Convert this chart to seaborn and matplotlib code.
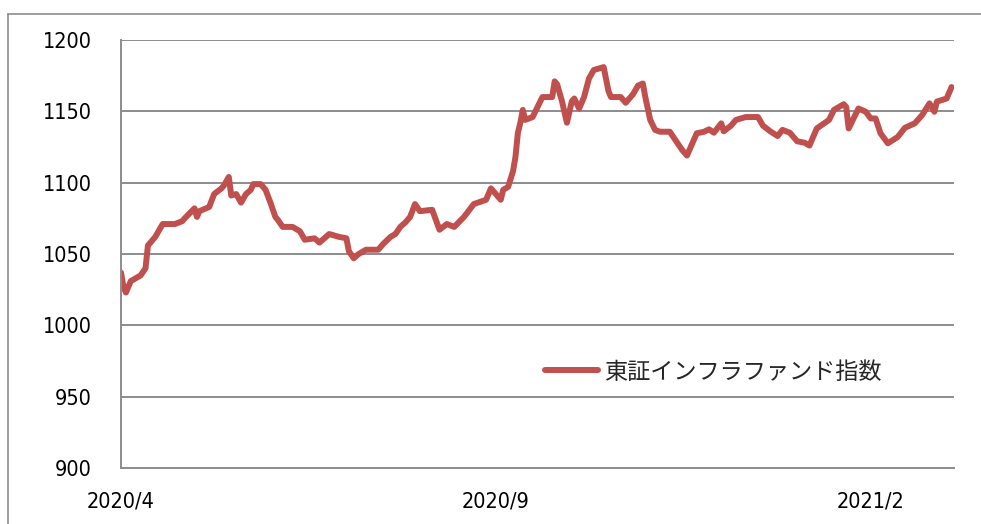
import numpy as np
import pandas as pd
import matplotlib
matplotlib.use("Agg")
import matplotlib.pyplot as plt
from matplotlib.lines import Line2D
from matplotlib import font_manager
import seaborn as sns

# ---------------- data ----------------
start_date = "2020-04-01"
day_offsets = [0, 1, 2, 4, 8, 10, 11, 14, 17, 19, 22, 25, 26, 30, 31, 32, 36, 38, 41, 42,
               44, 45, 47, 49, 51, 53, 54, 57, 59, 61, 63, 64, 66, 70, 73, 75, 79, 81, 85, 89,
               92, 93, 95, 97, 100, 102, 105, 107, 110, 112, 114, 116, 118, 120, 122, 127, 130, 133, 136, 140,
               144, 149, 151, 155, 156, 158, 160, 161, 162, 163, 164, 165, 168, 170, 172, 176, 177, 178, 180, 182,
               184, 185, 187, 189, 191, 193, 197, 199, 200, 204, 206, 209, 211, 213, 214, 215, 216, 218, 220, 224,
               227, 229, 231, 235, 238, 240, 242, 245, 246, 249, 251, 255, 260, 262, 265, 268, 270, 273, 276, 279,
               281, 284, 289, 291, 293, 295, 296, 297, 299, 301, 304, 306, 308, 310, 313, 317, 320, 324, 327, 330,
               332, 333, 337, 339]
index_values = [1037, 1027, 1023, 1031, 1035, 1040, 1056, 1062, 1071, 1071, 1071, 1073, 1075, 1082, 1076, 1080, 1083, 1092, 1096, 1098,
                1104, 1091, 1092, 1086, 1092, 1095, 1099, 1099, 1095, 1086, 1076, 1074, 1069, 1069, 1066, 1060, 1061, 1058, 1064, 1062,
                1061, 1052, 1047, 1050, 1053, 1053, 1053, 1057, 1062, 1064, 1069, 1072, 1076, 1085, 1080, 1081, 1067, 1071, 1069, 1076,
                1085, 1088, 1096, 1088, 1095, 1097, 1108, 1118, 1135, 1142, 1151, 1144, 1146, 1153, 1160, 1160, 1171, 1169, 1157, 1142,
                1157, 1159, 1152, 1160, 1173, 1179, 1181, 1164, 1160, 1160, 1156, 1162, 1168, 1169.5, 1160, 1152, 1144, 1137, 1135.7, 1135.7,
                1128, 1123, 1119, 1134.6, 1135.7, 1137.4, 1135, 1141.6, 1136, 1140, 1144, 1146, 1146, 1140, 1136, 1132.7, 1137, 1135, 1129, 1128,
                1126, 1138, 1144, 1151, 1153, 1155, 1153, 1138, 1145, 1152, 1149.7, 1145, 1145, 1134.6, 1127.6, 1132, 1138.5, 1141.6, 1147.4, 1155.6,
                1149.7, 1156.8, 1159, 1167]
series_name = "東証インフラファンド指数"
x_tick_dates = ["2020-04-01", "2020-09-01", "2021-02-01"]
x_tick_labels = ["2020/4", "2020/9", "2021/2"]
y_ticks = [900, 950, 1000, 1050, 1100, 1150, 1200]

# ---------------- style ----------------
sns.set_style("white")
plt.rcParams['font.family'] = ['DejaVu Sans']
tick_font = font_manager.FontProperties(family="DejaVu Sans", stretch="condensed", size=15.5)

W, H = 981, 524
fig = plt.figure(figsize=(W / 100, H / 100), dpi=100)
left, right, top, bottom = 121, 954, 40, 468
ax = fig.add_axes([left / W, 1 - bottom / H, (right - left) / W, (bottom - top) / H])

t0 = pd.Timestamp(start_date)
df = pd.DataFrame({"date": t0 + pd.to_timedelta(day_offsets, unit="D"),
                   "value": index_values})

red = "#C0504D"
grey = "#8C8C8C"
lw = 4.3
sns.lineplot(data=df, x="date", y="value", ax=ax, color=red, linewidth=lw,
             label=series_name, solid_joinstyle="round", solid_capstyle="round")

ax.set_xlim(t0, t0 + pd.Timedelta(days=340))
ax.set_ylim(900, 1200)
ax.set_yticks(y_ticks)
ax.set_yticklabels([str(v) for v in y_ticks], fontproperties=tick_font)
ax.set_xticks(pd.to_datetime(x_tick_dates))
ax.set_xticklabels(x_tick_labels, fontproperties=tick_font)
ax.set_xlabel("")
ax.set_ylabel("")

ax.yaxis.grid(True, color=grey, linewidth=1.4)
ax.xaxis.grid(False)
for s in ["top", "right"]:
    ax.spines[s].set_visible(False)
for s in ["left", "bottom"]:
    ax.spines[s].set_color(grey)
    ax.spines[s].set_linewidth(1.4)
ax.tick_params(axis="both", direction="out", length=7, width=1.2, color=grey,
               labelcolor="black")
ax.tick_params(axis="y", pad=14)
ax.tick_params(axis="x", pad=10)
ax.set_axisbelow(True)

leg = ax.legend(loc="center left", bbox_to_anchor=(533 / W, 1 - 372 / H),
                bbox_transform=fig.transFigure, frameon=False, borderpad=0,
                handlelength=2.3, handletextpad=0.25,
                prop={"family": ["Noto Sans CJK JP", "DejaVu Sans"], "size": 16.7})
for h in leg.get_lines():
    h.set_linewidth(lw)
    h.set_solid_capstyle("round")

# outer chart-area border (left and top edges visible in the reference)
bx, by = 7.5 / W, 1 - 13.5 / H
fig.add_artist(Line2D([bx, bx], [0, by], transform=fig.transFigure, color=grey, linewidth=1.2))
fig.add_artist(Line2D([bx, 1], [by, by], transform=fig.transFigure, color=grey, linewidth=1.2))

fig.savefig("out.png", dpi=100)
